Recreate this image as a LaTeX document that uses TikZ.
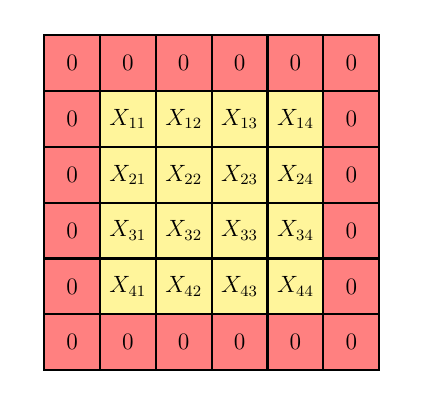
\documentclass[tikz,border=0pt]{standalone}
\usepackage{amsmath,amssymb}
\usetikzlibrary{positioning}
\definecolor{padred}{RGB}{255,128,128}
\definecolor{inyellow}{RGB}{255,245,155}
\tikzstyle{cell} = [rectangle,minimum size=1cm,inner sep=0,outer sep=0,font=\large]
\tikzstyle{pad} = [cell,fill=padred]
\tikzstyle{entry} = [cell,fill=inyellow]
\tikzstyle{rule} = [line width=1.1pt,line cap=rect]

\begin{document}
\begin{tikzpicture}
      \useasboundingbox (-0.79,-0.58) rectangle (6.82,6.63);
      \foreach \i in {0,...,5}{
        \foreach \j in {0,...,5}{
          \pgfmathtruncatemacro{\inner}{(\i>0)&&(\i<5)&&(\j>0)&&(\j<5)}
          \ifnum\inner=1
            \node[entry] (c-\i-\j) at (\j+0.5,5.5-\i) {$X_{\i\j}$};
          \else
            \node[pad] (c-\i-\j) at (\j+0.5,5.5-\i) {$0$};
          \fi
        }
      }
      \draw[rule] (c-5-0.south west) grid (c-0-5.north east);
    \end{tikzpicture}
\end{document}
